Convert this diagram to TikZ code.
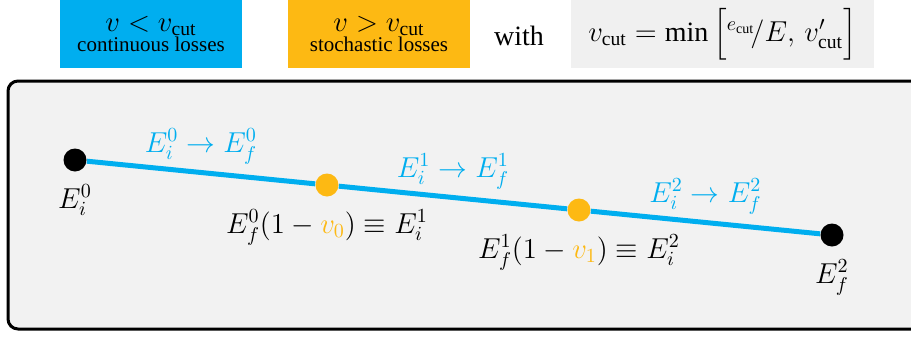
\documentclass[tikz,border=0pt]{standalone}
\usepackage{amsmath}
\usepackage{fontspec}
\setmainfont{Liberation Serif}
\usetikzlibrary{positioning}
\definecolor{cutblue}{HTML}{00AEEF}
\definecolor{cutorange}{HTML}{FDB913}
\definecolor{boxgray}{HTML}{F0F0F0}
\definecolor{framegray}{HTML}{F2F2F2}

\newcommand{\vcut}{v_{\mathrm{cut}}}

\begin{document}
\begin{tikzpicture}[x=0.5pt, y=-0.5pt,
  every node/.style={font=\fontsize{14}{10}\selectfont},
  leg/.style={rectangle, minimum width=91pt, minimum height=34pt, inner sep=0pt, align=center},
  enddot/.style={circle, fill=black, minimum size=11.5pt, inner sep=0pt},
  cutdot/.style={circle, fill=cutorange, minimum size=11.5pt, inner sep=0pt},
  track/.style={line width=2.5pt, draw=cutblue},
  seg/.style={midway, above=-0.5pt, text=cutblue},
  frame/.style={line width=1.5pt, rounded corners=5pt, draw=black, fill=framegray}
]
  \useasboundingbox (0,0) rectangle (911,338);
  \clip (0,0) rectangle (911,338);

  % legend
  \node[leg, fill=cutblue] (cont) at (151,34)
    {$v < \vcut$\\{\fontsize{10.5}{12}\selectfont continuous losses}};
  \node[leg, fill=cutorange] (stoch) at (379,34)
    {$v > \vcut$\\{\fontsize{10.5}{12}\selectfont stochastic losses}};
  \node (with) at (519,36) {with};
  \node[leg, fill=boxgray, minimum width=151.5pt] (def) at (722.5,34)
    {$\vcut = \min\Big[{}^{e_{\mathrm{cut}}}\!/E,\, v'_{\mathrm{cut}}\Big]$};

  \draw[frame] (8,81) rectangle (940,329);

  \node[enddot] (e0) at (75,160) {};
  \node[cutdot] (s1) at (327,185) {};
  \node[cutdot] (s2) at (579,210) {};
  \node[enddot] (e2) at (832,235) {};

  \draw[track] (e0) -- node[seg] {$E_i^0 \rightarrow E_f^0$} (s1);
  \draw[track] (s1) -- node[seg] {$E_i^1 \rightarrow E_f^1$} (s2);
  \draw[track] (s2) -- node[seg] {$E_i^2 \rightarrow E_f^2$} (e2);

  \node[below=3pt of e0] (e0lab) {$E_i^0$};
  \node[below=3pt of s1] (s1lab) {$E_f^0(1 - {\color{cutorange}v_0}) \equiv E_i^1$};
  \node[below=3pt of s2] (s2lab) {$E_f^1(1 - {\color{cutorange}v_1}) \equiv E_i^2$};
  \node[below=3pt of e2] (e2lab) {$E_f^2$};
\end{tikzpicture}
\end{document}
